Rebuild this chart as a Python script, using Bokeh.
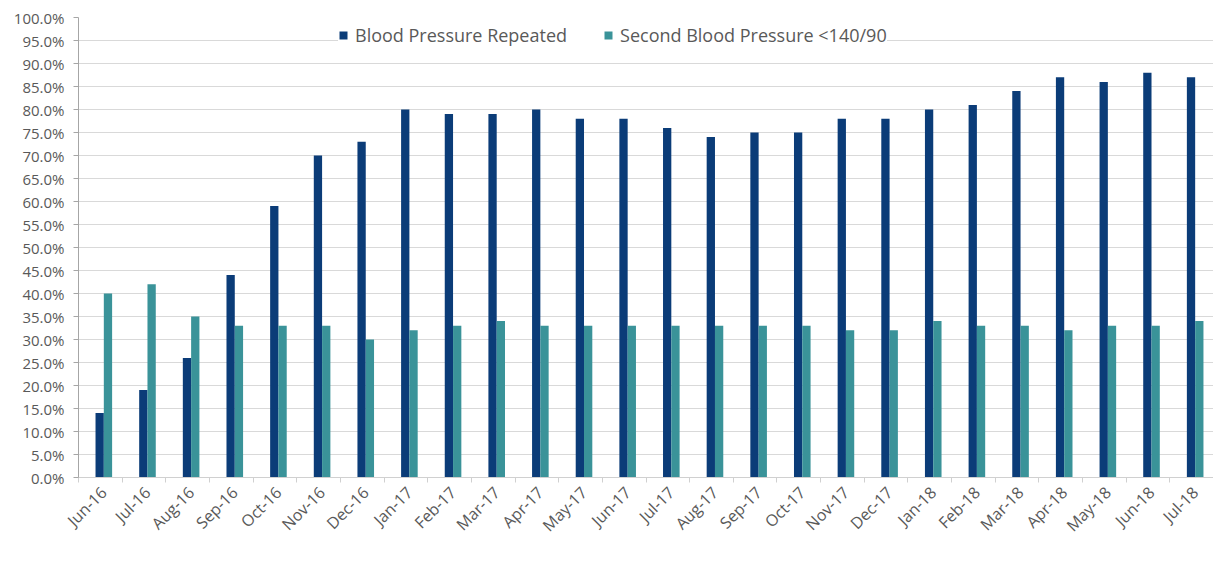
import math
import numpy as np
from bokeh.plotting import figure
from bokeh.models import (ColumnDataSource, FixedTicker, NumeralTickFormatter,
                          Range1d, Legend, LegendItem)
from bokeh.transform import dodge
from bokeh.embed import file_html
from bokeh.resources import INLINE

months = ["Jun-16", "Jul-16", "Aug-16", "Sep-16", "Oct-16", "Nov-16", "Dec-16",
          "Jan-17", "Feb-17", "Mar-17", "Apr-17", "May-17", "Jun-17", "Jul-17",
          "Aug-17", "Sep-17", "Oct-17", "Nov-17", "Dec-17", "Jan-18", "Feb-18",
          "Mar-18", "Apr-18", "May-18", "Jun-18", "Jul-18"]
bp_repeated = [14, 19, 26, 44, 59, 70, 73, 80, 79, 79, 80, 78, 78, 76, 74, 75,
               75, 78, 78, 80, 81, 84, 87, 86, 88, 87]
second_bp = [40, 42, 35, 33, 33, 33, 30, 32, 33, 34, 33, 33, 33, 33, 33, 33,
             33, 32, 32, 34, 33, 33, 32, 33, 33, 34]
y_ticks = [i * 0.05 for i in range(21)]

n = len(months)
idx = list(range(n))
src = ColumnDataSource(dict(
    x=idx,
    rep=[v / 100 for v in bp_repeated],
    sec=[v / 100 for v in second_bp],
))

NAVY = "#0B3C78"
TEAL = "#3A9399"
TXT = "#595959"
FONT = "Open Sans"

shift = 0.58
p = figure(width=1213, height=546, output_backend="svg", toolbar_location=None,
           x_range=Range1d(-shift, n - shift), y_range=Range1d(0, 1.0),
           min_border_left=78, min_border_right=0, min_border_top=17,
           min_border_bottom=63)
p.outline_line_color = None
p.background_fill_color = "white"
p.border_fill_color = "white"

r1 = p.vbar(x=dodge("x", -0.095), top="rep", width=0.19, source=src,
            fill_color=NAVY, line_color=None)
r2 = p.vbar(x=dodge("x", 0.095), top="sec", width=0.19, source=src,
            fill_color=TEAL, line_color=None)

# x axis
p.xaxis.ticker = FixedTicker(ticks=idx, minor_ticks=[i - shift for i in range(n + 1)])
p.xaxis.major_label_overrides = {i: m for i, m in enumerate(months)}
p.xaxis.major_label_orientation = math.pi / 4
p.xaxis.major_tick_line_color = None
p.xaxis.minor_tick_out = 5
p.xaxis.minor_tick_in = 0
p.xaxis.minor_tick_line_color = "#D0D0D0"
p.xaxis.axis_line_color = "#D0D0D0"
p.xaxis.major_label_text_font = FONT
p.xaxis.major_label_text_font_size = "16px"
p.xaxis.major_label_text_color = TXT
p.xaxis.major_label_standoff = 6
p.xgrid.grid_line_color = None

# y axis
p.yaxis.ticker = FixedTicker(ticks=y_ticks)
p.yaxis.formatter = NumeralTickFormatter(format="0.0%")
p.yaxis.axis_line_color = "#A6A6A6"
p.yaxis.major_tick_line_color = "#A6A6A6"
p.yaxis.major_tick_out = 5
p.yaxis.major_tick_in = 0
p.yaxis.minor_tick_line_color = None
p.yaxis.major_label_text_font = FONT
p.yaxis.major_label_text_font_size = "15px"
p.yaxis.major_label_text_color = TXT
p.yaxis.major_label_standoff = 9
p.ygrid.ticker = FixedTicker(ticks=y_ticks)
p.ygrid.grid_line_color = "#D9D9D9"
p.ygrid.grid_line_width = 1

legend = Legend(items=[LegendItem(label="Blood Pressure Repeated", renderers=[r1]),
                       LegendItem(label="Second Blood Pressure <140/90", renderers=[r2])],
                orientation="horizontal", location=(260, 430))
legend.label_text_font = FONT
legend.label_text_font_size = "18px"
legend.label_text_color = TXT
legend.glyph_width = 10
legend.glyph_height = 10
legend.label_standoff = 7
legend.spacing = 36
legend.padding = 5
legend.margin = 0
legend.border_line_color = None
legend.background_fill_color = "white"
legend.background_fill_alpha = 1.0
p.add_layout(legend)

open("out.html", "w").write(file_html(p, INLINE))
